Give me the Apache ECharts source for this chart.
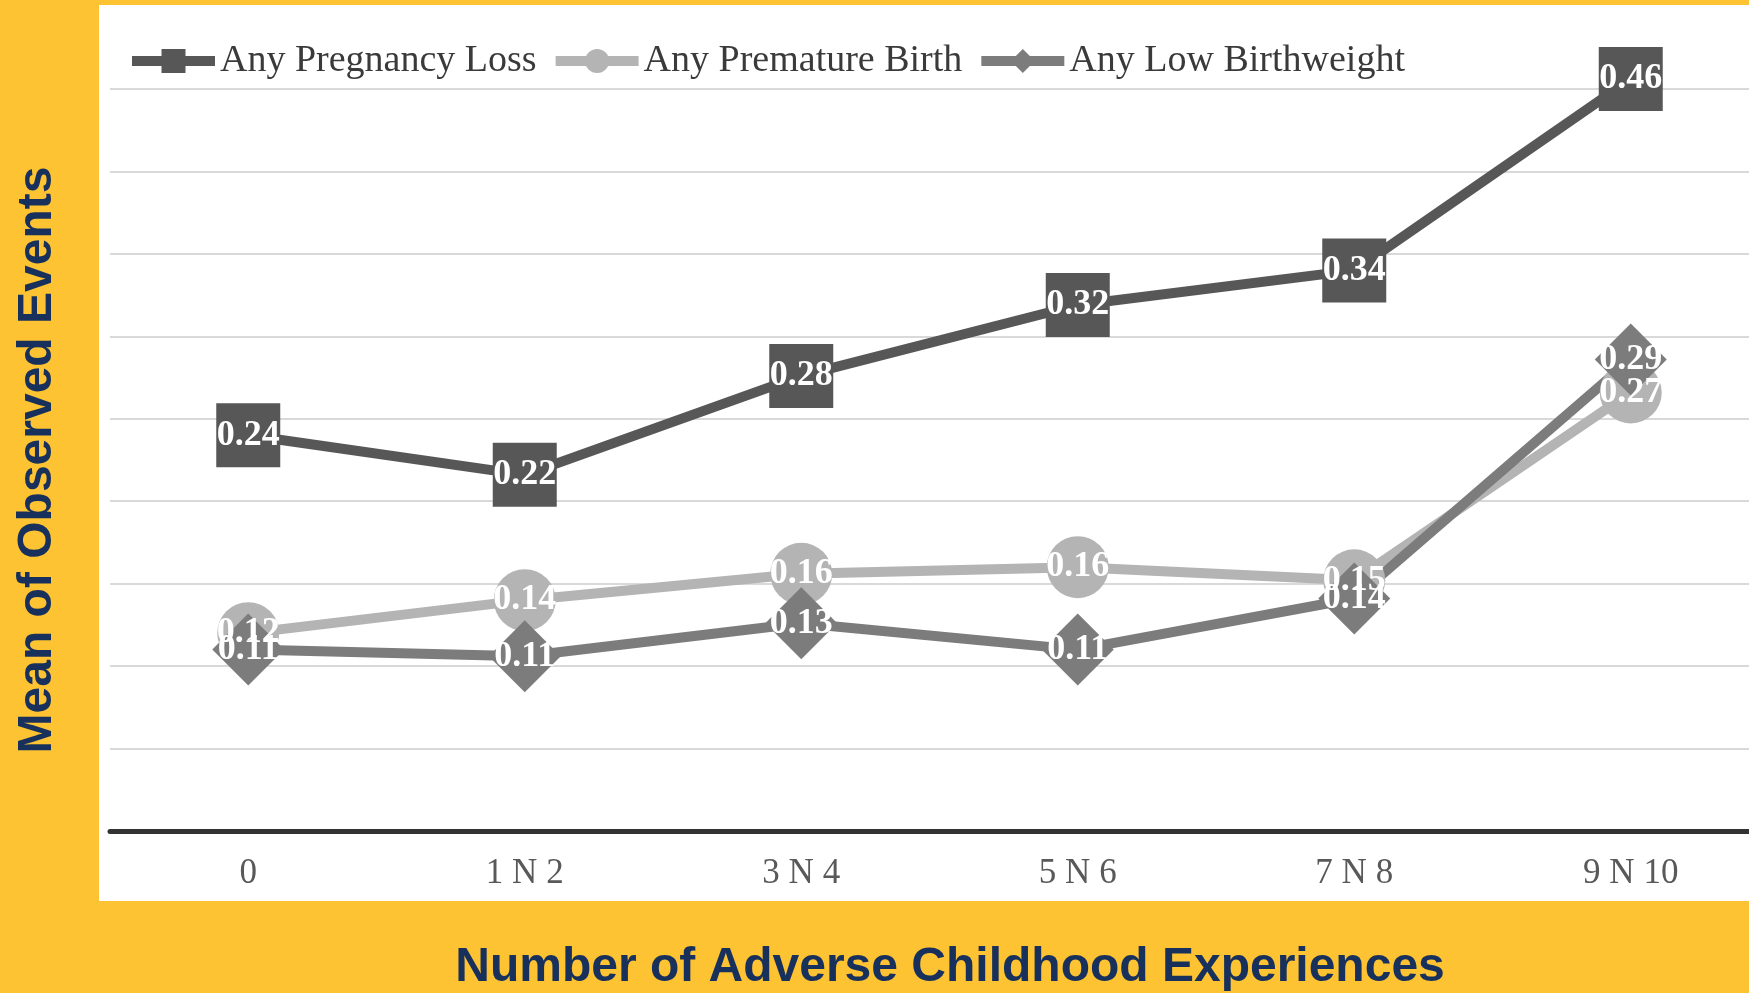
<!DOCTYPE html>
<html>
<head>
<meta charset="utf-8">
<title>ACEs and birth outcomes</title>
<script src="https://cdn.jsdelivr.net/npm/echarts@6/dist/echarts.min.js"></script>
<style>
  html, body { margin: 0; padding: 0; background: #fec332; }
  #chart { width: 1749px; height: 993px; }
</style>
</head>
<body>
<div id="chart"></div>
<script>
// categories (number of ACEs) and series values
const categories = ['0', '1 N 2', '3 N 4', '5 N 6', '7 N 8', '9 N 10']
const pregnancyLoss = [0.240, 0.216, 0.276, 0.319, 0.340, 0.456]
const prematureBirth = [0.120, 0.140, 0.156, 0.160, 0.152, 0.266]
const lowBirthweight = [0.110, 0.106, 0.126, 0.110, 0.141, 0.286]
const seriesNames = ['Any Pregnancy Loss', 'Any Premature Birth', 'Any Low Birthweight']

const serif = 'Liberation Serif, Times New Roman, serif'
const sans = 'Liberation Sans, Arial, sans-serif'
const navy = '#17305c'

const chart = echarts.init(document.getElementById('chart'))

// 折线 + 数据标签
const makeSeries = (name, data, color, symbol, size) => ({
  name: name,
  type: 'line',
  data: data,
  symbol: symbol,
  symbolSize: size,
  clip: false,
  lineStyle: { color: color, width: 10 },
  itemStyle: { color: color },
  label: {
    show: true,
    position: 'inside',
    color: '#fff',
    fontFamily: serif,
    fontWeight: 'bold',
    fontSize: 36,
    formatter: p => p.value.toFixed(2)
  },
  emphasis: { disabled: true }
})

const option = {
  backgroundColor: '#fec332',
  animation: false,
  graphic: [{
    type: 'rect',
    z: -100,
    silent: true,
    shape: { x: 99, y: 5, width: 1660, height: 896 },
    style: { fill: '#ffffff' }
  }],
  legend: {
    left: 122,
    top: 37,
    itemWidth: 83,
    itemHeight: 30,
    itemGap: 14,
    data: seriesNames,
    lineStyle: { width: 10 },
    textStyle: { fontFamily: serif, fontSize: 38, color: '#3a3a3a' }
  },
  grid: {
    left: 110,
    top: 89,
    width: 1659,
    height: 742,
    outerBoundsMode: 'none'
  },
  xAxis: {
    type: 'category',
    data: categories,
    boundaryGap: true,
    axisLine: { lineStyle: { color: '#333', width: 5 } },
    axisTick: { show: false },
    axisLabel: { color: '#595959', fontFamily: serif, fontSize: 35, margin: 25 },
    name: 'Number of Adverse Childhood Experiences',
    nameLocation: 'middle',
    nameGap: 113,
    nameTextStyle: { color: navy, fontFamily: sans, fontWeight: 'bold', fontSize: 48, padding: [0, 0, 0, 21] }
  },
  yAxis: {
    type: 'value',
    min: 0,
    max: 0.45,
    interval: 0.05,
    axisLine: { show: false },
    axisTick: { show: false },
    axisLabel: { show: false },
    splitLine: { lineStyle: { color: '#d9d9d9', width: 2 } },
    name: 'Mean of Observed Events',
    nameLocation: 'middle',
    nameGap: 48,
    nameRotate: 90,
    nameTextStyle: { color: navy, fontFamily: sans, fontWeight: 'bold', fontSize: 48 }
  },
  series: [
    makeSeries(seriesNames[0], pregnancyLoss, '#575757', 'rect', 64),
    makeSeries(seriesNames[1], prematureBirth, '#b4b4b4', 'circle', 62),
    makeSeries(seriesNames[2], lowBirthweight, '#7c7c7c', 'diamond', 72)
  ]
}

chart.setOption(option)
</script>
</body>
</html>
